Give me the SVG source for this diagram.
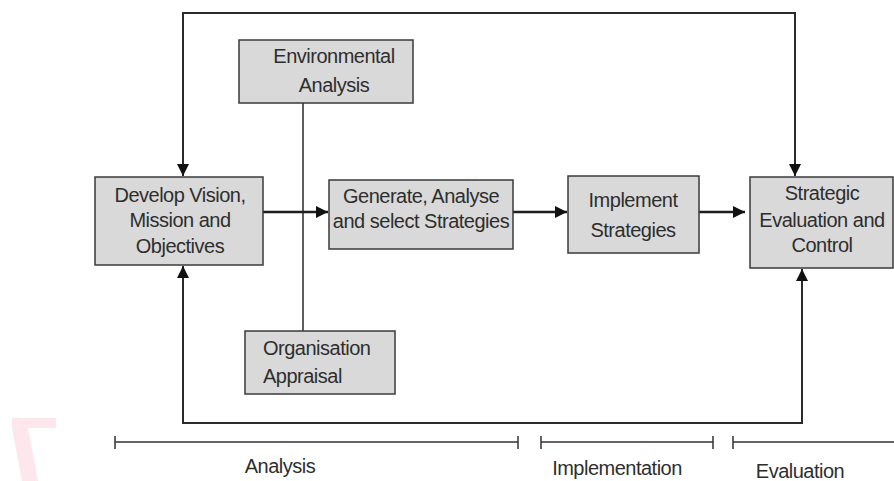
<svg xmlns="http://www.w3.org/2000/svg" width="894" height="481" viewBox="0 0 894 481">
  <style>
    .box { fill: #d9d9d9; stroke: #3a3a3a; stroke-width: 1.5; }
    .lbl { font-family: "Liberation Sans", Arial, sans-serif; font-size: 20px; fill: #2e2e2e; text-anchor: middle; letter-spacing: -0.5px; }
    .flow { fill: none; stroke: #1e1e1e; stroke-width: 2.5; }
    .loop { fill: none; stroke: #2a2a2a; stroke-width: 2; }
    .thin { fill: none; stroke: #2a2a2a; stroke-width: 1.5; }
    .scale { fill: none; stroke: #333; stroke-width: 1.5; }
  </style>
  <defs>
    <marker id="head" viewBox="0 0 10 10" refX="10" refY="5" markerWidth="5" markerHeight="5" markerUnits="strokeWidth" orient="auto-start-reverse">
      <path d="M0,0 L10,5 L0,10 z" fill="#111"/>
    </marker>
    <marker id="headS" viewBox="0 0 10 10" refX="10" refY="5" markerWidth="6" markerHeight="6" markerUnits="strokeWidth" orient="auto-start-reverse">
      <path d="M0,0 L10,5 L0,10 z" fill="#111"/>
    </marker>
  </defs>

  <rect width="894" height="481" fill="#fff"/>

  <!-- faint pink mark, lower left -->
  <path d="M12,418 L56,418 L56,428 L28,428 L38,481 L22,481 L12,428 z" fill="#fde6ec"/>

  <g id="connectors">
    <!-- top feedback loop -->
    <polyline class="loop" points="183,176 183,13 795,13 795,176" marker-start="url(#headS)" marker-end="url(#headS)"/>
    <!-- bottom feedback loop -->
    <polyline class="loop" points="183,266 183,423 802,423 802,269" marker-start="url(#headS)" marker-end="url(#headS)"/>
    <!-- analysis inputs -->
    <line class="thin" x1="303" y1="103" x2="303" y2="331"/>
    <!-- main flow -->
    <line class="flow" x1="263" y1="212" x2="328" y2="212" marker-end="url(#head)"/>
    <line class="flow" x1="513" y1="212" x2="567" y2="212" marker-end="url(#head)"/>
    <line class="flow" x1="699" y1="212" x2="745" y2="212" marker-end="url(#head)"/>
  </g>

  <g id="env">
    <rect class="box" x="239" y="40" width="174" height="63"/>
    <text class="lbl" x="334" y="63">Environmental</text>
    <text class="lbl" x="334" y="92">Analysis</text>
  </g>

  <g id="vision">
    <rect class="box" x="95" y="177" width="168" height="88"/>
    <text class="lbl" x="180" y="202">Develop Vision,</text>
    <text class="lbl" x="180" y="227">Mission and</text>
    <text class="lbl" x="180" y="253">Objectives</text>
  </g>

  <g id="generate">
    <rect class="box" x="329" y="180" width="184" height="69"/>
    <text class="lbl" x="421" y="203">Generate, Analyse</text>
    <text class="lbl" x="421" y="228">and select Strategies</text>
  </g>

  <g id="implement">
    <rect class="box" x="568" y="176" width="131" height="77"/>
    <text class="lbl" x="633" y="207">Implement</text>
    <text class="lbl" x="633" y="237">Strategies</text>
  </g>

  <g id="evaluate">
    <rect class="box" x="750" y="177" width="143" height="91"/>
    <text class="lbl" x="822" y="200">Strategic</text>
    <text class="lbl" x="822" y="227">Evaluation and</text>
    <text class="lbl" x="822" y="252">Control</text>
  </g>

  <g id="appraisal">
    <rect class="box" x="245" y="331" width="150" height="63"/>
    <text class="lbl" x="263" y="355" style="text-anchor:start">Organisation</text>
    <text class="lbl" x="263" y="383" style="text-anchor:start">Appraisal</text>
  </g>

  <g id="timeline">
    <path class="scale" d="M115,442 H518 M115,436 V449 M518,436 V449"/>
    <path class="scale" d="M541,442 H713 M541,436 V449 M713,436 V449"/>
    <path class="scale" d="M733,442 H894 M733,436 V449"/>
    <text class="lbl" x="280" y="473">Analysis</text>
    <text class="lbl" x="617" y="475">Implementation</text>
    <text class="lbl" x="800" y="478">Evaluation</text>
  </g>
</svg>
